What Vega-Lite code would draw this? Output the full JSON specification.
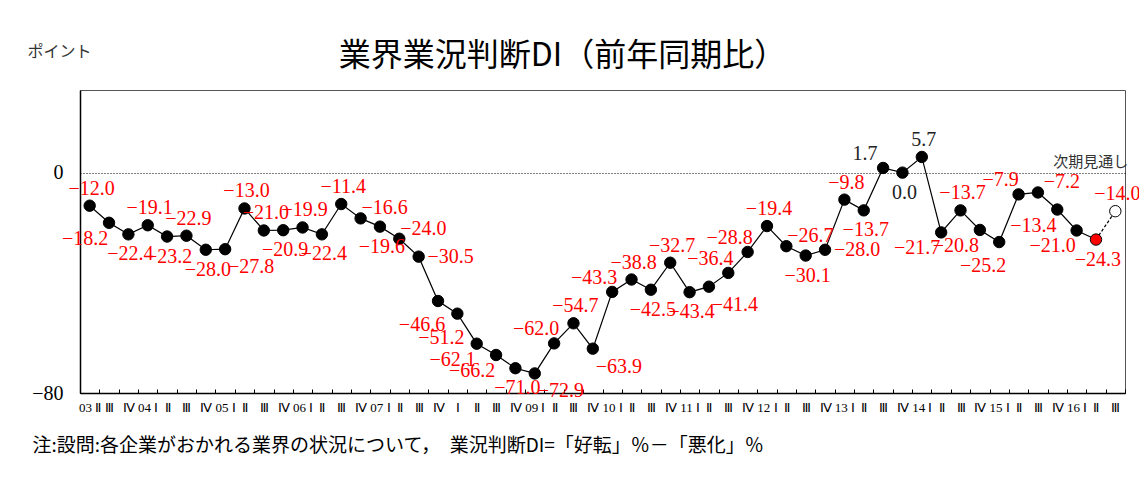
{
  "$schema": "https://vega.github.io/schema/vega-lite/v6.json",
  "width": 1045,
  "height": 303,
  "autosize": {"type": "none"},
  "padding": {"left": 80, "top": 90, "right": 14, "bottom": 87},
  "background": "white",
  "title": {
    "text": "業界業況判断DI（前年同期比）",
    "font": "Noto Sans CJK JP",
    "fontSize": 32,
    "fontWeight": "normal",
    "color": "#000",
    "anchor": "middle",
    "frame": "group",
    "dx": -40,
    "dy": 48,
    "offset": 18
  },
  "config": {
    "view": {"stroke": "#555", "strokeWidth": 1}
  },
  "data": {
    "values": [
      {"t": "2003-2", "v": -12.0, "s": "actual"},
      {"t": "2003-3", "v": -18.2, "s": "actual"},
      {"t": "2003-4", "v": -22.4, "s": "actual"},
      {"t": "2004-1", "v": -19.1, "s": "actual"},
      {"t": "2004-2", "v": -23.2, "s": "actual"},
      {"t": "2004-3", "v": -22.9, "s": "actual"},
      {"t": "2004-4", "v": -28.0, "s": "actual"},
      {"t": "2005-1", "v": -27.8, "s": "actual"},
      {"t": "2005-2", "v": -13.0, "s": "actual"},
      {"t": "2005-3", "v": -21.0, "s": "actual"},
      {"t": "2005-4", "v": -20.9, "s": "actual"},
      {"t": "2006-1", "v": -19.9, "s": "actual"},
      {"t": "2006-2", "v": -22.4, "s": "actual"},
      {"t": "2006-3", "v": -11.4, "s": "actual"},
      {"t": "2006-4", "v": -16.6, "s": "actual"},
      {"t": "2007-1", "v": -19.6, "s": "actual"},
      {"t": "2007-2", "v": -24.0, "s": "actual"},
      {"t": "2007-3", "v": -30.5, "s": "actual"},
      {"t": "2007-4", "v": -46.6, "s": "actual"},
      {"t": "2008-1", "v": -51.2, "s": "actual"},
      {"t": "2008-2", "v": -62.1, "s": "actual"},
      {"t": "2008-3", "v": -66.2, "s": "actual"},
      {"t": "2008-4", "v": -71.0, "s": "actual"},
      {"t": "2009-1", "v": -72.9, "s": "actual"},
      {"t": "2009-2", "v": -62.0, "s": "actual"},
      {"t": "2009-3", "v": -54.7, "s": "actual"},
      {"t": "2009-4", "v": -63.9, "s": "actual"},
      {"t": "2010-1", "v": -43.3, "s": "actual"},
      {"t": "2010-2", "v": -38.8, "s": "actual"},
      {"t": "2010-3", "v": -42.5, "s": "actual"},
      {"t": "2010-4", "v": -32.7, "s": "actual"},
      {"t": "2011-1", "v": -43.4, "s": "actual"},
      {"t": "2011-2", "v": -41.4, "s": "actual"},
      {"t": "2011-3", "v": -36.4, "s": "actual"},
      {"t": "2011-4", "v": -28.8, "s": "actual"},
      {"t": "2012-1", "v": -19.4, "s": "actual"},
      {"t": "2012-2", "v": -26.7, "s": "actual"},
      {"t": "2012-3", "v": -30.1, "s": "actual"},
      {"t": "2012-4", "v": -28.0, "s": "actual"},
      {"t": "2013-1", "v": -9.8, "s": "actual"},
      {"t": "2013-2", "v": -13.7, "s": "actual"},
      {"t": "2013-3", "v": 1.7, "s": "actual"},
      {"t": "2013-4", "v": 0.0, "s": "actual"},
      {"t": "2014-1", "v": 5.7, "s": "actual"},
      {"t": "2014-2", "v": -21.7, "s": "actual"},
      {"t": "2014-3", "v": -13.7, "s": "actual"},
      {"t": "2014-4", "v": -20.8, "s": "actual"},
      {"t": "2015-1", "v": -25.2, "s": "actual"},
      {"t": "2015-2", "v": -7.9, "s": "actual"},
      {"t": "2015-3", "v": -7.2, "s": "actual"},
      {"t": "2015-4", "v": -13.4, "s": "actual"},
      {"t": "2016-1", "v": -21.0, "s": "actual"},
      {"t": "2016-2", "v": -24.3, "s": "latest"},
      {"t": "2016-3", "v": -14.0, "s": "forecast"}
    ]
  },
  "encoding": {
    "x": {
      "field": "t",
      "type": "ordinal",
      "scale": {"type": "band", "paddingInner": 0, "paddingOuter": 0},
      "axis": {
        "title": "注:設問:各企業がおかれる業界の状況について，　業況判断DI=「好転」％－「悪化」％",
        "labelExpr": "!isString(datum.value) ? '' : datum.value == '2008-1' ? 'Ⅰ' : (substring(datum.value, 5, 6) == '1' || datum.value == '2003-2' ? substring(datum.value, 2, 4) + ' ' : '') + (substring(datum.value, 5, 6) == '1' ? 'Ⅰ' : substring(datum.value, 5, 6) == '2' ? 'Ⅱ' : substring(datum.value, 5, 6) == '3' ? 'Ⅲ' : 'Ⅳ')",
        "labelAngle": 0,
        "labelFont": "Liberation Serif",
        "labelFontSize": 13,
        "labelColor": "#000",
        "labelPadding": 12,
        "labelOverlap": false,
        "labelBound": false,
        "tickBand": "extent",
        "tickSize": -4,
        "tickColor": "#000",
        "domainColor": "#000",
        "domainWidth": 1.5,
        "titleFont": "Noto Sans CJK JP",
        "titleFontSize": 19,
        "titleFontWeight": "normal",
        "titleColor": "#000",
        "titleAnchor": "start",
        "titleAlign": "left",
        "titleBaseline": "middle",
        "titleX": -48,
        "titleY": 52
      }
    },
    "y": {
      "field": "v",
      "type": "quantitative",
      "scale": {"domain": [-80, 30], "nice": false, "zero": false},
      "axis": {
        "title": "ポイント",
        "titleAngle": 0,
        "titleAlign": "left",
        "titleBaseline": "top",
        "titleX": -53,
        "titleY": -47,
        "titleFont": "Noto Sans CJK JP",
        "titleFontSize": 16,
        "titleFontWeight": "normal",
        "titleColor": "#333",
        "values": [-80, 0],
        "ticks": false,
        "grid": true,
        "gridColor": "#000",
        "gridDash": [1, 2],
        "gridWidth": 1,
        "labelFont": "Liberation Serif",
        "labelFontSize": 20,
        "labelPadding": 17,
        "labelColor": "#000",
        "domainColor": "#000",
        "domainWidth": 1.5
      }
    }
  },
  "layer": [
    {
      "transform": [{"filter": "datum.s != 'forecast'"}],
      "mark": {"type": "line", "color": "#000", "strokeWidth": 1.2}
    },
    {
      "transform": [{"filter": "datum.s != 'actual'"}],
      "mark": {"type": "line", "color": "#000", "strokeWidth": 1.2, "strokeDash": [3, 2]}
    },
    {
      "mark": {"type": "circle", "size": 130, "opacity": 1, "stroke": "#000", "strokeWidth": 1},
      "encoding": {
        "fill": {
          "condition": [
            {"test": "datum.s == 'latest'", "value": "#FF0000"},
            {"test": "datum.s == 'forecast'", "value": "#FFFFFF"}
          ],
          "value": "#000"
        }
      }
    },
    {
      "transform": [{"filter": "datum.s == 'forecast'"}],
      "mark": {"type": "text", "text": "次期見通し", "font": "Noto Sans CJK JP", "fontSize": 15, "color": "#333", "align": "right", "baseline": "bottom", "dx": 13, "dy": -3},
      "encoding": {"y": {"datum": 0, "type": "quantitative"}}
    },
    {
      "transform": [{"filter": {"field": "t", "oneOf": ["2003-2", "2004-1", "2004-3", "2005-2", "2005-3", "2006-1", "2006-3", "2009-3", "2010-2", "2010-4", "2012-1", "2013-1", "2014-1", "2014-3", "2016-3"]}}],
      "mark": {"type": "text", "font": "Liberation Serif", "fontSize": 20, "dx": 2, "dy": -17},
      "encoding": {
        "text": {"field": "v", "type": "quantitative", "format": ".1f"},
        "color": {"condition": {"test": "datum.v >= 0", "value": "#222"}, "value": "#FF0000"}
      }
    },
    {
      "transform": [{"filter": {"field": "t", "oneOf": ["2003-4", "2004-2", "2004-4", "2005-4", "2006-2", "2007-1", "2008-4", "2010-3", "2011-1", "2012-3", "2013-2", "2013-4", "2016-2"]}}],
      "mark": {"type": "text", "font": "Liberation Serif", "fontSize": 20, "dx": 2, "dy": 20},
      "encoding": {
        "text": {"field": "v", "type": "quantitative", "format": ".1f"},
        "color": {"condition": {"test": "datum.v >= 0", "value": "#222"}, "value": "#FF0000"}
      }
    },
    {
      "transform": [{"filter": {"field": "t", "oneOf": ["2007-4", "2008-1", "2015-1"]}}],
      "mark": {"type": "text", "font": "Liberation Serif", "fontSize": 20, "dx": -16, "dy": 24},
      "encoding": {
        "text": {"field": "v", "type": "quantitative", "format": ".1f"},
        "color": {"condition": {"test": "datum.v >= 0", "value": "#222"}, "value": "#FF0000"}
      }
    },
    {
      "transform": [{"filter": {"field": "t", "oneOf": ["2003-3", "2008-2", "2008-3", "2014-2", "2014-4", "2015-4", "2016-1"]}}],
      "mark": {"type": "text", "font": "Liberation Serif", "fontSize": 20, "dx": -24, "dy": 16},
      "encoding": {
        "text": {"field": "v", "type": "quantitative", "format": ".1f"},
        "color": {"condition": {"test": "datum.v >= 0", "value": "#222"}, "value": "#FF0000"}
      }
    },
    {
      "transform": [{"filter": {"field": "t", "oneOf": ["2005-1", "2009-1", "2009-4", "2011-2"]}}],
      "mark": {"type": "text", "font": "Liberation Serif", "fontSize": 20, "dx": 26, "dy": 18},
      "encoding": {
        "text": {"field": "v", "type": "quantitative", "format": ".1f"},
        "color": {"condition": {"test": "datum.v >= 0", "value": "#222"}, "value": "#FF0000"}
      }
    },
    {
      "transform": [{"filter": {"field": "t", "oneOf": ["2009-2", "2010-1", "2011-3", "2011-4", "2013-3", "2015-2"]}}],
      "mark": {"type": "text", "font": "Liberation Serif", "fontSize": 20, "dx": -18, "dy": -14},
      "encoding": {
        "text": {"field": "v", "type": "quantitative", "format": ".1f"},
        "color": {"condition": {"test": "datum.v >= 0", "value": "#222"}, "value": "#FF0000"}
      }
    },
    {
      "transform": [{"filter": {"field": "t", "oneOf": ["2006-4", "2007-2", "2012-2", "2015-3"]}}],
      "mark": {"type": "text", "font": "Liberation Serif", "fontSize": 20, "dx": 24, "dy": -10},
      "encoding": {
        "text": {"field": "v", "type": "quantitative", "format": ".1f"},
        "color": {"condition": {"test": "datum.v >= 0", "value": "#222"}, "value": "#FF0000"}
      }
    },
    {
      "transform": [{"filter": {"field": "t", "oneOf": ["2007-3", "2012-4"]}}],
      "mark": {"type": "text", "font": "Liberation Serif", "fontSize": 20, "dx": 32, "dy": 0},
      "encoding": {
        "text": {"field": "v", "type": "quantitative", "format": ".1f"},
        "color": {"condition": {"test": "datum.v >= 0", "value": "#222"}, "value": "#FF0000"}
      }
    }
  ]
}
